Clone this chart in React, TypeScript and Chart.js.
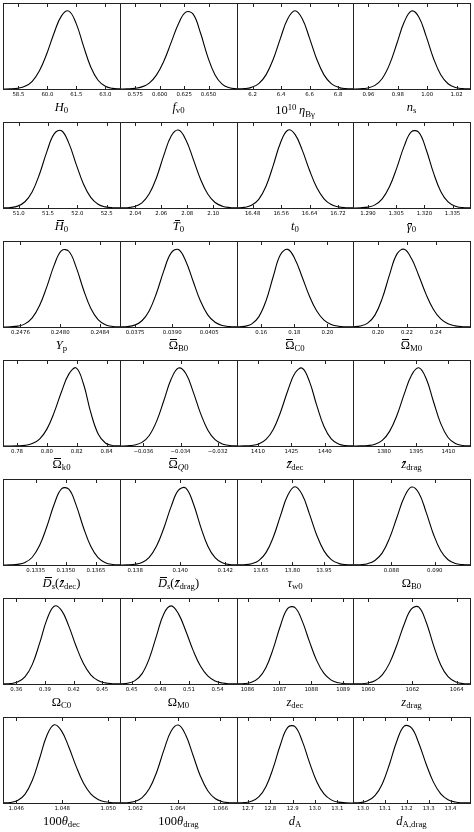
import React, { useEffect, useRef } from 'react';
import { Chart, registerables } from 'chart.js';

Chart.register(...registerables);

// ---------- layout constants ----------
const COL_EDGES = [3, 120, 237, 353, 470];
const ROW_TOP0 = 3;
const ROW_STEP = 119;
const PLOT_H = 86;
const TICK_AREA = 16;

// ---------- x ranges (data units) ----------
const xMins = [
  57.70, 0.5593, 6.091, 0.9495,
  50.732, 2.0282, 16.436, 1.282,
  0.247425, 0.03689, 0.1454, 0.1827,
  0.7706, -0.03726, 1400.6, 1365.5,
  0.13187, 0.13733, 13.536, 0.08623,
  0.346, 0.4378, 1085.67, 1059.32,
  1.04542, 1.06129, 12.651, 12.954,
];
const xMaxs = [
  63.76, 0.6791, 6.905, 1.0291,
  52.728, 2.1183, 16.762, 1.3443,
  0.248602, 0.04162, 0.2154, 0.2636,
  0.849, -0.03096, 1452.6, 1420.1,
  0.1377, 0.14252, 14.089, 0.09162,
  0.4686, 0.5603, 1089.31, 1064.6,
  1.05051, 1.06678, 13.17, 13.489,
];

// ---------- tick values & labels ----------
const tickValues: number[][] = [
  [58.5, 60.0, 61.5, 63.0], [0.575, 0.6, 0.625, 0.65], [6.2, 6.4, 6.6, 6.8], [0.96, 0.98, 1.0, 1.02],
  [51.0, 51.5, 52.0, 52.5], [2.04, 2.06, 2.08, 2.1], [16.48, 16.56, 16.64, 16.72], [1.29, 1.305, 1.32, 1.335],
  [0.2476, 0.248, 0.2484], [0.0375, 0.039, 0.0405], [0.16, 0.18, 0.2], [0.2, 0.22, 0.24],
  [0.78, 0.8, 0.82, 0.84], [-0.036, -0.034, -0.032], [1410, 1425, 1440], [1380, 1395, 1410],
  [0.1335, 0.135, 0.1365], [0.138, 0.14, 0.142], [13.65, 13.8, 13.95], [0.088, 0.09],
  [0.36, 0.39, 0.42, 0.45], [0.45, 0.48, 0.51, 0.54], [1086, 1087, 1088, 1089], [1060, 1062, 1064],
  [1.046, 1.048, 1.05], [1.062, 1.064, 1.066], [12.7, 12.8, 12.9, 13.0, 13.1], [13.0, 13.1, 13.2, 13.3, 13.4],
];
const tickLabels: string[][] = [
  ['58.5', '60.0', '61.5', '63.0'], ['0.575', '0.600', '0.625', '0.650'], ['6.2', '6.4', '6.6', '6.8'], ['0.96', '0.98', '1.00', '1.02'],
  ['51.0', '51.5', '52.0', '52.5'], ['2.04', '2.06', '2.08', '2.10'], ['16.48', '16.56', '16.64', '16.72'], ['1.290', '1.305', '1.320', '1.335'],
  ['0.2476', '0.2480', '0.2484'], ['0.0375', '0.0390', '0.0405'], ['0.16', '0.18', '0.20'], ['0.20', '0.22', '0.24'],
  ['0.78', '0.80', '0.82', '0.84'], ['\u22120.036', '\u22120.034', '\u22120.032'], ['1410', '1425', '1440'], ['1380', '1395', '1410'],
  ['0.1335', '0.1350', '0.1365'], ['0.138', '0.140', '0.142'], ['13.65', '13.80', '13.95'], ['0.088', '0.090'],
  ['0.36', '0.39', '0.42', '0.45'], ['0.45', '0.48', '0.51', '0.54'], ['1086', '1087', '1088', '1089'], ['1060', '1062', '1064'],
  ['1.046', '1.048', '1.050'], ['1.062', '1.064', '1.066'], ['12.7', '12.8', '12.9', '13.0', '13.1'], ['13.0', '13.1', '13.2', '13.3', '13.4'],
];

// ---------- marginal densities (evenly spaced across each panel's x range) ----------
const pH0 = [0.000, 0.002, 0.010, 0.034, 0.099, 0.236, 0.454, 0.720, 0.936, 0.996, 0.839, 0.551, 0.282, 0.112, 0.035, 0.008, 0.002];
const pFv0 = [0.000, 0.002, 0.008, 0.027, 0.076, 0.181, 0.358, 0.596, 0.835, 0.983, 0.958, 0.719, 0.411, 0.179, 0.060, 0.015, 0.003];
const pEta = [0.001, 0.005, 0.021, 0.069, 0.181, 0.381, 0.651, 0.898, 1.000, 0.898, 0.651, 0.381, 0.181, 0.069, 0.021, 0.005, 0.001];
const pNs = [0.000, 0.003, 0.013, 0.046, 0.135, 0.315, 0.582, 0.856, 0.997, 0.922, 0.676, 0.394, 0.182, 0.067, 0.019, 0.005, 0.001];
const pHbar = [0.001, 0.006, 0.024, 0.080, 0.209, 0.435, 0.721, 0.948, 0.989, 0.830, 0.562, 0.307, 0.135, 0.048, 0.014, 0.003, 0.001];
const pTbar = [0.001, 0.004, 0.019, 0.066, 0.181, 0.391, 0.676, 0.922, 0.997, 0.874, 0.629, 0.370, 0.178, 0.070, 0.023, 0.006, 0.001];
const pT0 = [0.002, 0.008, 0.034, 0.110, 0.278, 0.546, 0.835, 0.995, 0.942, 0.740, 0.483, 0.261, 0.118, 0.044, 0.014, 0.004, 0.001];
const pGamma = [0.000, 0.003, 0.011, 0.040, 0.117, 0.274, 0.517, 0.791, 0.976, 0.967, 0.749, 0.452, 0.212, 0.078, 0.022, 0.005, 0.001];
const pYp = [0.000, 0.003, 0.011, 0.040, 0.117, 0.274, 0.517, 0.791, 0.976, 0.969, 0.766, 0.480, 0.239, 0.094, 0.030, 0.007, 0.001];
const pObB = [0.001, 0.006, 0.024, 0.080, 0.209, 0.435, 0.721, 0.948, 0.990, 0.841, 0.585, 0.333, 0.155, 0.060, 0.019, 0.005, 0.001];
const pObC = [0.001, 0.008, 0.037, 0.130, 0.334, 0.646, 0.926, 0.993, 0.868, 0.637, 0.393, 0.204, 0.089, 0.033, 0.010, 0.003, 0.001];
const pObM = [0.002, 0.012, 0.049, 0.152, 0.366, 0.669, 0.932, 0.994, 0.875, 0.656, 0.417, 0.225, 0.104, 0.041, 0.014, 0.004, 0.001];
const pObK = [0.000, 0.000, 0.002, 0.008, 0.031, 0.089, 0.216, 0.430, 0.693, 0.919, 0.999, 0.796, 0.430, 0.157, 0.039, 0.006, 0.001];
const pObQ = [0.000, 0.003, 0.013, 0.046, 0.135, 0.315, 0.582, 0.856, 0.997, 0.927, 0.696, 0.421, 0.206, 0.081, 0.026, 0.007, 0.001];
const pZbDec = [0.000, 0.001, 0.007, 0.027, 0.085, 0.212, 0.432, 0.707, 0.934, 0.995, 0.823, 0.519, 0.249, 0.091, 0.026, 0.005, 0.001];
const pZbDrag = [0.000, 0.001, 0.006, 0.022, 0.071, 0.187, 0.391, 0.663, 0.906, 1.000, 0.863, 0.569, 0.286, 0.109, 0.032, 0.007, 0.001];
const pDsDec = [0.000, 0.002, 0.008, 0.031, 0.099, 0.248, 0.492, 0.777, 0.974, 0.969, 0.766, 0.480, 0.239, 0.094, 0.030, 0.007, 0.001];
const pDsDrag = [0.000, 0.002, 0.009, 0.033, 0.099, 0.242, 0.474, 0.750, 0.957, 0.984, 0.793, 0.498, 0.244, 0.093, 0.028, 0.006, 0.001];
const pTauW = [0.001, 0.003, 0.016, 0.056, 0.158, 0.355, 0.631, 0.891, 1.000, 0.898, 0.651, 0.381, 0.181, 0.069, 0.021, 0.005, 0.001];
const pOB = [0.001, 0.004, 0.017, 0.058, 0.155, 0.344, 0.607, 0.866, 0.997, 0.922, 0.676, 0.394, 0.182, 0.067, 0.019, 0.005, 0.001];
const pOC = [0.001, 0.005, 0.025, 0.091, 0.248, 0.519, 0.823, 0.995, 0.942, 0.740, 0.483, 0.261, 0.118, 0.044, 0.014, 0.004, 0.001];
const pOM = [0.002, 0.009, 0.040, 0.130, 0.325, 0.619, 0.900, 0.999, 0.897, 0.677, 0.430, 0.229, 0.103, 0.039, 0.012, 0.003, 0.001];
const pZDec = [0.001, 0.005, 0.022, 0.078, 0.212, 0.452, 0.749, 0.967, 0.977, 0.804, 0.542, 0.299, 0.135, 0.050, 0.015, 0.004, 0.001];
const pZDrag = [0.001, 0.003, 0.013, 0.042, 0.117, 0.267, 0.499, 0.765, 0.960, 0.984, 0.793, 0.498, 0.244, 0.093, 0.028, 0.006, 0.001];
const pThDec = [0.001, 0.007, 0.032, 0.110, 0.287, 0.569, 0.864, 1.000, 0.923, 0.716, 0.468, 0.256, 0.118, 0.046, 0.015, 0.004, 0.001];
const pThDrag = [0.001, 0.004, 0.019, 0.066, 0.181, 0.391, 0.676, 0.922, 0.997, 0.866, 0.607, 0.343, 0.157, 0.058, 0.017, 0.004, 0.001];
const pDA = [0.001, 0.005, 0.022, 0.078, 0.212, 0.452, 0.749, 0.967, 0.976, 0.791, 0.517, 0.273, 0.116, 0.040, 0.011, 0.003, 0.000];
const pDAdrag = [0.001, 0.006, 0.028, 0.093, 0.244, 0.499, 0.793, 0.984, 0.960, 0.765, 0.499, 0.267, 0.117, 0.042, 0.012, 0.003, 0.001];

const densities = [
  pH0, pFv0, pEta, pNs,
  pHbar, pTbar, pT0, pGamma,
  pYp, pObB, pObC, pObM,
  pObK, pObQ, pZbDec, pZbDrag,
  pDsDec, pDsDrag, pTauW, pOB,
  pOC, pOM, pZDec, pZDrag,
  pThDec, pThDrag, pDA, pDAdrag,
];

// ---------- axis labels (math-like markup) ----------
// kinds: r roman, i italic, bi barred italic capital, bl barred italic lowercase,
// br barred roman, s subscript roman, si subscript italic, p superscript
type Part = [string, string];
const axisLabels: Part[][] = [
  [['i', 'H'], ['s', '0']],
  [['i', 'f'], ['s', 'v0']],
  [['r', '10'], ['p', '10'], ['r', '\u2009'], ['i', 'η'], ['s', 'Bγ']],
  [['i', 'n'], ['s', 's']],
  [['bi', 'H'], ['s', '0']],
  [['bi', 'T'], ['s', '0']],
  [['i', 't'], ['s', '0']],
  [['bl', 'γ'], ['s', '0']],
  [['i', 'Y'], ['s', 'p']],
  [['br', 'Ω'], ['s', 'B0']],
  [['br', 'Ω'], ['s', 'C0']],
  [['br', 'Ω'], ['s', 'M0']],
  [['br', 'Ω'], ['s', 'k0']],
  [['br', 'Ω'], ['si', 'Q'], ['s', '0']],
  [['bl', 'z'], ['s', 'dec']],
  [['bl', 'z'], ['s', 'drag']],
  [['bi', 'D'], ['si', 's'], ['r', '('], ['bl', 'z'], ['s', 'dec'], ['r', ')']],
  [['bi', 'D'], ['si', 's'], ['r', '('], ['bl', 'z'], ['s', 'drag'], ['r', ')']],
  [['i', 'τ'], ['s', 'w0']],
  [['r', 'Ω'], ['s', 'B0']],
  [['r', 'Ω'], ['s', 'C0']],
  [['r', 'Ω'], ['s', 'M0']],
  [['i', 'z'], ['s', 'dec']],
  [['i', 'z'], ['s', 'drag']],
  [['r', '100'], ['i', 'θ'], ['s', 'dec']],
  [['r', '100'], ['i', 'θ'], ['s', 'drag']],
  [['i', 'd'], ['s', 'A']],
  [['i', 'd'], ['s', 'A,drag']],
];

const FRAME = '#222';

const framePlugin = {
  id: 'frameTicks',
  afterDraw(chart: any) {
    const { ctx, chartArea } = chart;
    const l = Math.round(chartArea.left), r = Math.round(chartArea.right);
    const t = Math.round(chartArea.top), b = Math.round(chartArea.bottom);
    ctx.save();
    ctx.strokeStyle = FRAME;
    ctx.lineWidth = 1;
    ctx.strokeRect(l + 0.5, t + 0.5, r - l, b - t);
    const xs = chart.scales.x;
    ctx.beginPath();
    xs.ticks.forEach((tk: any) => {
      const px = Math.round(xs.getPixelForValue(tk.value)) + 0.5;
      ctx.moveTo(px, b + 0.5);
      ctx.lineTo(px, b - 3);
      ctx.moveTo(px, t + 0.5);
      ctx.lineTo(px, t + 4);
    });
    ctx.stroke();
    ctx.restore();
  },
};

function Panel({ i }: { i: number }) {
  const ref = useRef<HTMLCanvasElement>(null);
  const row = Math.floor(i / 4);
  const col = i % 4;
  const left = COL_EDGES[col];
  const right = COL_EDGES[col + 1];
  const top = ROW_TOP0 + row * ROW_STEP;
  const w = right - left + 4;
  const h = 2 + PLOT_H + TICK_AREA;

  useEffect(() => {
    const ticks = tickValues[i];
    const labels = tickLabels[i];
    const chart = new Chart(ref.current as HTMLCanvasElement, {
      type: 'line',
      data: {
        labels: densities[i].map((_, k) => String(k)),
        datasets: [
          {
            data: densities[i],
            xAxisID: 'xc',
            yAxisID: 'y',
            borderColor: '#000',
            borderWidth: 1.1,
            pointRadius: 0,
            tension: 0.4,
            fill: false,
          } as any,
        ],
      },
      options: {
        animation: false,
        responsive: false,
        events: [],
        layout: { padding: { left: 2, right: 2, top: 2, bottom: 0 } },
        plugins: { legend: { display: false }, tooltip: { enabled: false }, title: { display: false } },
        scales: {
          xc: { type: 'category', display: false, offset: false },
          x: {
            type: 'linear',
            position: 'bottom',
            min: xMins[i],
            max: xMaxs[i],
            grid: { display: false, drawTicks: false, tickLength: 0 },
            border: { display: false },
            afterBuildTicks: (s: any) => {
              s.ticks = ticks.map((v) => ({ value: v }));
            },
            afterFit: (s: any) => {
              s.height = TICK_AREA;
            },
            ticks: {
              autoSkip: false,
              maxRotation: 0,
              padding: 2,
              color: '#000',
              font: { family: 'DejaVu Sans', size: 5.4 },
              callback: (_v: any, k: number) => labels[k],
            },
          },
          y: { type: 'linear', display: false, min: 0, max: 1.1 },
        } as any,
      },
      plugins: [framePlugin],
    });
    return () => chart.destroy();
  }, [i]);

  return (
    <canvas
      ref={ref}
      width={w}
      height={h}
      style={{ position: 'absolute', left: left - 2, top: top - 2, width: w, height: h }}
    />
  );
}

function Bar({ children, low, italic }: { children: React.ReactNode; low?: boolean; italic?: boolean }) {
  return (
    <span style={{ position: 'relative', display: 'inline-block', fontStyle: italic ? 'italic' : 'normal' }}>
      {children}
      <span
        style={{
          position: 'absolute',
          left: italic ? '28%' : '12%',
          right: italic ? '-6%' : '12%',
          top: low ? 4.6 : 1.6,
          borderTop: '1px solid #000',
        }}
      />
    </span>
  );
}

function renderPart(p: Part, k: number) {
  const [kind, text] = p;
  switch (kind) {
    case 'i':
      return <span key={k} style={{ fontStyle: 'italic' }}>{text}</span>;
    case 'bi':
      return <Bar key={k} italic>{text}</Bar>;
    case 'bl':
      return <Bar key={k} italic low>{text}</Bar>;
    case 'br':
      return <Bar key={k}>{text}</Bar>;
    case 's':
      return <span key={k} style={{ fontSize: '0.7em', verticalAlign: '-0.28em' }}>{text}</span>;
    case 'si':
      return <span key={k} style={{ fontSize: '0.7em', verticalAlign: '-0.28em', fontStyle: 'italic' }}>{text}</span>;
    case 'p':
      return <span key={k} style={{ fontSize: '0.7em', verticalAlign: '0.5em' }}>{text}</span>;
    default:
      return <span key={k}>{text}</span>;
  }
}

function AxisTitle({ i }: { i: number }) {
  const row = Math.floor(i / 4);
  const col = i % 4;
  const left = COL_EDGES[col];
  const right = COL_EDGES[col + 1];
  const top = ROW_TOP0 + row * ROW_STEP + PLOT_H + 10;
  return (
    <div
      style={{
        position: 'absolute',
        left,
        width: right - left,
        top,
        height: 16,
        lineHeight: '16px',
        textAlign: 'center',
        fontFamily: '"Liberation Serif", "DejaVu Serif", serif',
        fontSize: 12.5,
        color: '#000',
        whiteSpace: 'nowrap',
      }}
    >
      {axisLabels[i].map(renderPart)}
    </div>
  );
}

export default function App() {
  const idx = densities.map((_, k) => k);
  return (
    <div style={{ position: 'absolute', left: 0, top: 0, width: 474, height: 832, background: '#fff', overflow: 'hidden' }}>
      {idx.map((k) => (
        <Panel key={'p' + k} i={k} />
      ))}
      {idx.map((k) => (
        <AxisTitle key={'t' + k} i={k} />
      ))}
    </div>
  );
}
